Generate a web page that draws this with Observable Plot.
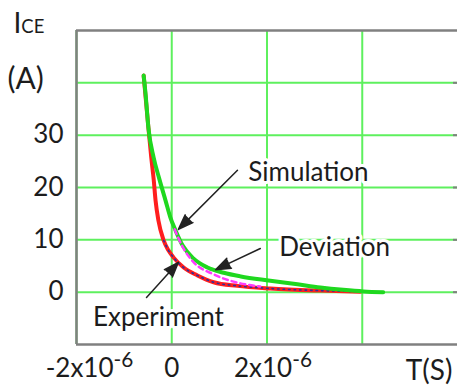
<!DOCTYPE html>
<html><head><meta charset="utf-8">
<script src="https://cdn.jsdelivr.net/npm/d3@7"></script>
<script src="https://cdn.jsdelivr.net/npm/@observablehq/plot@0.6"></script>
<style>body{margin:0;background:#fff} #chart svg{display:block}</style>
</head><body><div id="chart"></div>
<script>
// Times in microseconds (converted to seconds below), currents in A
const simT = [-0.59, -0.55, -0.49, -0.38, -0.26, -0.13, -0.03, 0.08, 0.23, 0.46, 0.75, 1.09, 1.45, 2.07, 2.64, 3.12, 3.6, 4.02, 4.44];
const simI = [41.4, 37.9, 31.4, 25.7, 21.6, 17.5, 14.3, 11.8, 8.9, 6.4, 4.7, 3.7, 3.0, 2.2, 1.5, 0.9, 0.45, 0.15, 0.0];
const expT = [-0.59, -0.49, -0.43, -0.38, -0.34, -0.28, -0.17, -0.07, 0.04, 0.25, 0.54, 0.88, 1.38, 2.07, 3.12, 3.96];
const expI = [41.4, 31.4, 25.7, 21.6, 17.5, 13.7, 9.9, 8.0, 6.6, 4.7, 3.2, 1.9, 1.2, 0.7, 0.3, 0.1];
const devT = [0.06, 0.25, 0.44, 0.88, 1.34, 1.86];
const devI = [12.0, 8.3, 5.9, 3.4, 1.9, 1.1];

const xTicks = [-2e-6, 0, 2e-6];
const xTickLabels = ["-2x10^-6", "0", "2x10^-6"];
const xGrid = [-2e-6, 0, 2e-6, 4e-6];
const yTicks = [0, 10, 20, 30];
const yGrid = [0, 10, 20, 30, 40];

const noteText = ["Simulation", "Deviation", "Experiment"];
const noteT = [2.87, 3.42, -0.28];
const noteI = [22.9, 8.44, -4.94];
const arrowFromT = [1.38, 1.86, -0.53];
const arrowFromI = [23.3, 8.35, -1.0];
const arrowToT = [0.14, 0.92, 0.14];
const arrowToI = [12.0, 4.3, 5.7];

const toRows = (T, I) => T.map((t, k) => ({t: t * 1e-6, i: I[k]}));
const sim = toRows(simT, simI);
const exp = toRows(expT, expI);
const dev = toRows(devT, devI);
const notes = noteText.map((s, k) => ({s, t: noteT[k] * 1e-6, i: noteI[k]}));
const arrows = arrowFromT.map((t, k) => ({t1: t * 1e-6, i1: arrowFromI[k], t2: arrowToT[k] * 1e-6, i2: arrowToI[k]}));

const ink = "#1c1c1c";
const xFmt = d => xTickLabels[xTicks.indexOf(d)];
const xAxisOpts = {tickSize: 0, tickPadding: 14, tickFormat: xFmt, fontSize: 26, label: null, fill: ink};

const chart = Plot.plot({
  width: 457, height: 387,
  marginLeft: 76, marginTop: 30, marginBottom: 43, marginRight: 0,
  style: {fontFamily: "Lato", background: "white", color: ink},
  x: {domain: [-2e-6, 6e-6], label: null, axis: null},
  y: {domain: [-10, 50], label: null, axis: null},
  marks: [
    Plot.gridX(xGrid, {stroke: "#5ef05e", strokeOpacity: 1, strokeWidth: 2}),
    Plot.gridY(yGrid, {stroke: "#5ef05e", strokeOpacity: 1, strokeWidth: 2}),
    Plot.ruleX([-2e-6], {stroke: "#808080", strokeWidth: 2.5}),
    Plot.ruleY([-10, 50], {stroke: "#808080", strokeWidth: 2.5}),
    Plot.axisY(yGrid, {anchor: "right", tickSize: 5, insetRight: 5, tickFormat: () => "", stroke: "#808080", strokeWidth: 2, label: null}),
    Plot.axisY(yTicks, {anchor: "left", tickSize: 0, tickPadding: 13, fontSize: 26, label: null, fill: ink}),
    Plot.axisX([xTicks[0]], {...xAxisOpts, dx: 13}),
    Plot.axisX([xTicks[1]], {...xAxisOpts}),
    Plot.axisX([xTicks[2]], {...xAxisOpts, dx: 6}),
    Plot.line(exp, {x: "t", y: "i", stroke: "#ff1e1e", strokeWidth: 4, curve: "monotone-x"}),
    Plot.line(exp.filter(d => d.t > -0.2e-6), {x: "t", y: "i", stroke: "#30309a", strokeWidth: 1.6, strokeDasharray: "1.5,4", curve: "monotone-x"}),
    Plot.line(sim, {x: "t", y: "i", stroke: "#1fd81f", strokeWidth: 4, curve: "monotone-x"}),
    Plot.line(dev, {x: "t", y: "i", stroke: "#ff3cff", strokeWidth: 2.5, strokeDasharray: "5,4", curve: "monotone-x"}),
    Plot.text(notes, {x: "t", y: "i", text: "s", fontSize: 26, fill: ink, stroke: "white", strokeWidth: 6}),
    Plot.arrow(arrows, {x1: "t1", y1: "i1", x2: "t2", y2: "i2", stroke: "#222", fill: "#222", strokeWidth: 1.5, headLength: 16, headAngle: 40}),
    Plot.text(["I_CE"], {frameAnchor: "top-left", textAnchor: "start", lineAnchor: "top", dx: -63, dy: -17, fontSize: 28, fill: ink}),
    Plot.text(["(A)"], {frameAnchor: "top-left", textAnchor: "start", lineAnchor: "top", dx: -69, dy: 37, fontSize: 30, fill: ink}),
    Plot.text(["T(S)"], {frameAnchor: "bottom-right", textAnchor: "end", lineAnchor: "top", dx: -5, dy: 16, fontSize: 28, fill: ink})
  ]
});

// rich text: "^" -> superscript, "_" -> smaller letters on the baseline
d3.select(chart).selectAll("text").each(function () {
  const leaves = this.querySelector("tspan") ? Array.from(this.querySelectorAll("tspan")) : [this];
  for (const node of leaves) {
    const m = node.textContent.match(/^(.*?)([\^_])(.*)$/);
    if (!m) continue;
    node.textContent = "";
    const n = d3.select(node);
    n.append("tspan").text(m[1]);
    const t = n.append("tspan").text(m[3]);
    if (m[2] === "^") t.attr("dy", "-0.5em").attr("font-size", "0.8em");
    else t.attr("font-size", "0.66em");
  }
});

document.getElementById("chart").append(chart);
</script>
</body></html>
